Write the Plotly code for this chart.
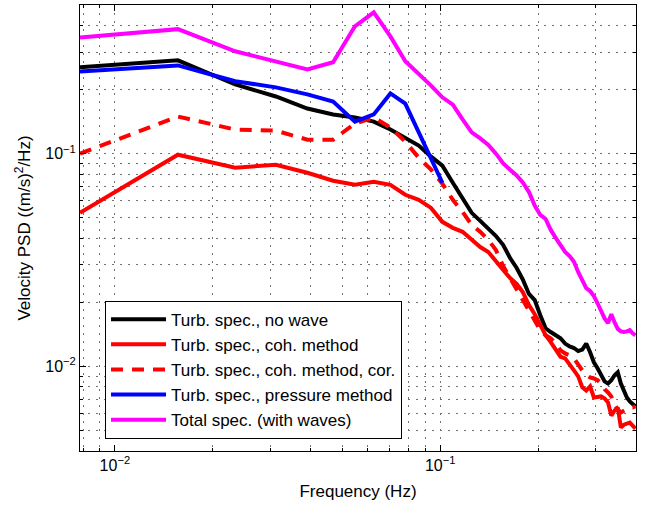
import plotly.graph_objects as go

# Frequency bins of the averaged spectra (df = 1/128 Hz)
freq_hz = [k / 128 for k in range(1, 52)]

# Turbulence spectrum without waves
psd_no_wave = [
    0.2545, 0.2746, 0.2115, 0.1857, 0.163, 0.1528, 0.148, 0.1415, 0.1298, 0.119,
    0.1091, 0.0968, 0.0878, 0.073, 0.062, 0.0527, 0.0483, 0.0443, 0.041, 0.0372,
    0.0323, 0.029, 0.0255, 0.0219, 0.0205, 0.0174, 0.0151, 0.0145, 0.014, 0.01355,
    0.0128, 0.0124, 0.0122, 0.0118, 0.012, 0.0128, 0.01165, 0.01045, 0.0098, 0.00908,
    0.0085, 0.0083, 0.0086, 0.00908, 0.00938, 0.0083, 0.0077, 0.00714, 0.00684, 0.00662,
    0.00648,
]

# Turbulence spectrum, coherence method
psd_coh = [
    0.0527, 0.0989, 0.0859, 0.0887, 0.0813, 0.0746, 0.0714, 0.0738, 0.0714, 0.0641,
    0.0607, 0.0556, 0.0478, 0.0448, 0.0429, 0.0393, 0.0364, 0.0345, 0.031, 0.0284,
    0.026, 0.0244, 0.0223, 0.0194, 0.0176, 0.0156, 0.014, 0.013, 0.0119, 0.0111,
    0.0109, 0.0101, 0.00957, 0.00897, 0.00797, 0.0077, 0.00805, 0.00714, 0.00722, 0.00722,
    0.00706, 0.00677, 0.00587, 0.0062, 0.00641, 0.00516, 0.00532, 0.00538, 0.00544, 0.00527,
    0.0051,
]

# Turbulence spectrum, coherence method, corrected
psd_coh_cor = [
    0.1, 0.1495, 0.1298, 0.1283, 0.1164, 0.1164, 0.1386, 0.1479, 0.1327, 0.1139,
    0.0957, 0.0841, 0.0722, 0.0607, 0.0532, 0.0463, 0.0429, 0.0393, 0.0352, 0.0296,
    0.026, 0.0231, 0.0205, 0.0184, 0.0165, 0.0148, 0.014, 0.01355, 0.0128, 0.0119,
    0.0115, 0.01127, 0.0109, 0.0101, 0.00957, 0.00917, 0.00887, 0.00877, 0.0086, 0.0083,
    0.0078, 0.00754, 0.00722, 0.00662, 0.00627, 0.00607, 0.0062, 0.00634, 0.00641, 0.00641,
    0.00648,
]

# Turbulence spectrum, pressure method (low-frequency bins only)
psd_pressure = [
    0.2436, 0.26, 0.219, 0.205, 0.19, 0.176, 0.1415, 0.153, 0.192, 0.172,
    0.126, 0.0947, 0.073,
]

# Total spectrum including waves
psd_total = [
    0.352, 0.385, 0.303, 0.272, 0.249, 0.269, 0.397, 0.462, 0.356, 0.272,
    0.238, 0.209, 0.184, 0.17, 0.145, 0.126, 0.118, 0.11, 0.1, 0.09,
    0.084, 0.079, 0.073, 0.066, 0.057, 0.0515, 0.0493, 0.0438, 0.0402, 0.0368,
    0.0345, 0.033, 0.031, 0.0278, 0.0252, 0.0233, 0.0226, 0.0214, 0.0198, 0.018,
    0.0168, 0.016, 0.0176, 0.0161, 0.015, 0.0146, 0.0145, 0.0146, 0.0148, 0.0143,
    0.014,
]

x_major = [0.01, 0.1]
x_major_text = ["10<sup>−2</sup>", "10<sup>−1</sup>"]
x_minor = [0.008, 0.009, 0.02, 0.03, 0.04, 0.05, 0.06, 0.07, 0.08, 0.09, 0.2, 0.3, 0.4]
y_major = [0.01, 0.1]
y_major_text = ["10<sup>−2</sup>", "10<sup>−1</sup>"]
y_minor = [0.004, 0.005, 0.006, 0.007, 0.008, 0.009,
           0.02, 0.03, 0.04, 0.05, 0.06, 0.07, 0.08, 0.09,
           0.2, 0.3, 0.4, 0.5]

FONT = "Liberation Sans, Arial, Helvetica, sans-serif"
LW = 4

series = [
    ("Turb. spec., no wave", freq_hz, psd_no_wave, "#000000", "solid"),
    ("Turb. spec., coh. method", freq_hz, psd_coh, "#ff0000", "solid"),
    ("Turb. spec., coh. method, cor.", freq_hz, psd_coh_cor, "#ff0000", "12px,9px"),
    ("Turb. spec., pressure method", freq_hz[:len(psd_pressure)], psd_pressure, "#0000ff", "solid"),
    ("Total spec. (with waves)", freq_hz, psd_total, "#ff00ff", "solid"),
]

fig = go.Figure()
for name, xs, ys, color, dash in series:
    fig.add_trace(go.Scatter(
        x=xs, y=ys, mode="lines", name=name,
        line=dict(color=color, width=LW, dash=dash),
    ))

grid = dict(gridcolor="rgb(115,115,115)", griddash="2px,6px", gridwidth=1)
axis_common = dict(
    type="log",
    showline=True, linecolor="black", linewidth=1, mirror="ticks",
    ticks="inside", ticklen=6, tickcolor="black", tickwidth=1,
    tickmode="array",
    showgrid=True, **grid,
    tickfont=dict(family=FONT, size=16, color="black"),
    zeroline=False,
)

fig.update_xaxes(
    **axis_common,
    range=[-2.10721, -0.39794],
    tickvals=x_major, ticktext=x_major_text,
    minor=dict(tickmode="array", tickvals=x_minor, ticks="inside", ticklen=3,
               tickcolor="black", showgrid=True, **grid),
    title=dict(text="Frequency (Hz)", font=dict(family=FONT, size=17, color="black"),
               standoff=11),
)
fig.update_yaxes(
    **axis_common,
    range=[-2.39794, -0.30103],
    tickvals=y_major, ticktext=y_major_text,
    minor=dict(tickmode="array", tickvals=y_minor, ticks="inside", ticklen=3,
               tickcolor="black", showgrid=True, **grid),
    title=dict(text="Velocity PSD ((m/s)<sup>2</sup>/Hz)",
               font=dict(family=FONT, size=17, color="black"), standoff=10),
)

fig.update_layout(
    width=649, height=508,
    margin=dict(l=80, r=13, t=5, b=57),
    paper_bgcolor="white", plot_bgcolor="white",
    font=dict(family=FONT, size=17, color="black"),
    showlegend=True,
    legend=dict(
        x=0.045, y=0.337, xanchor="left", yanchor="top",
        bgcolor="white", bordercolor="black", borderwidth=1,
        font=dict(family=FONT, size=17, color="black"),
        itemwidth=55, tracegroupgap=0,
    ),
)

fig.write_html("out.html")
